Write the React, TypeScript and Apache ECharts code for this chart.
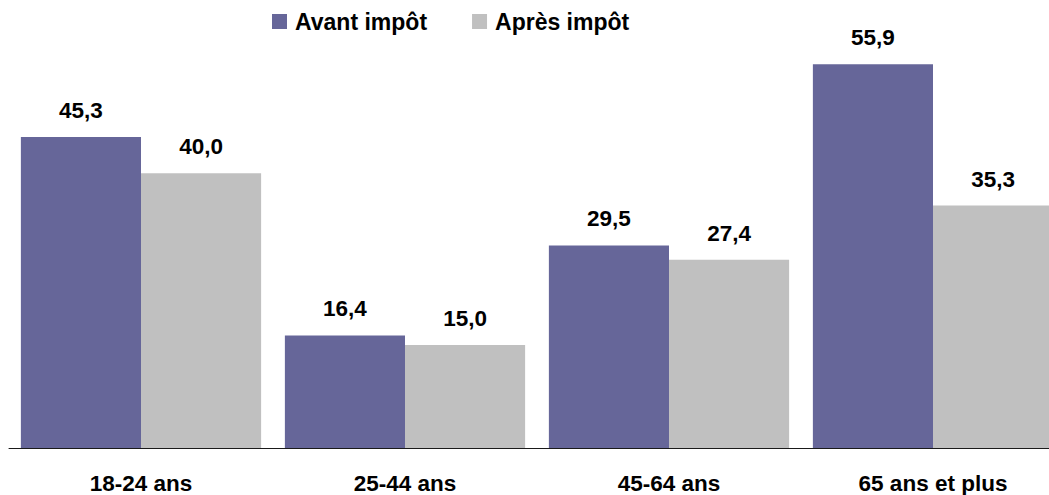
import React, { useEffect, useRef } from "react";
import * as echarts from "echarts";

const categories = ["18-24 ans", "25-44 ans", "45-64 ans", "65 ans et plus"];
const seriesNames = ["Avant impôt", "Après impôt"];
const avantImpot = [45.3, 16.4, 29.5, 55.9];
const apresImpot = [40.0, 15.0, 27.4, 35.3];

const FONT = "'Liberation Sans', Arial, sans-serif";
const fmt = (v: number) => v.toFixed(1).replace(".", ",");

export default function App() {
  const ref = useRef<HTMLDivElement>(null);
  useEffect(() => {
    if (!ref.current) return;
    const chart = echarts.init(ref.current, undefined, { renderer: "svg" });
    const label = {
      show: true,
      position: "top" as const,
      distance: 15,
      fontFamily: FONT,
      fontWeight: "bold" as const,
      fontSize: 22.5,
      color: "#000",
      formatter: (p: any) => fmt(p.value),
    };
    chart.setOption({
      animation: false,
      backgroundColor: "#fff",
      legend: {
        top: 5,
        left: 267,
        itemWidth: 15,
        itemHeight: 15,
        itemGap: 45,
        icon: "rect",
        textStyle: {
          fontFamily: FONT,
          fontWeight: "bold",
          fontSize: 23,
          color: "#000",
          padding: [0, 0, 0, 3],
        },
        data: seriesNames,
      },
      grid: { left: 9, right: 0, top: 36, bottom: 46 },
      xAxis: {
        type: "category",
        data: categories,
        axisTick: { show: false },
        axisLine: { lineStyle: { color: "#1a1a1a", width: 1 } },
        axisLabel: { fontFamily: FONT, fontWeight: "bold", fontSize: 22.5, color: "#000", margin: 24 },
      },
      yAxis: { type: "value", min: 0, max: 60, show: false, splitLine: { show: false } },
      series: [
        {
          name: seriesNames[0],
          type: "bar",
          data: avantImpot,
          itemStyle: { color: "#666699" },
          barGap: "0%",
          barCategoryGap: "9%",
          label,
        },
        {
          name: seriesNames[1],
          type: "bar",
          data: apresImpot,
          itemStyle: { color: "#C0C0C0" },
          barGap: "0%",
          barCategoryGap: "9%",
          label,
        },
      ],
    });
    return () => chart.dispose();
  }, []);
  return (
    <div style={{ position: "fixed", left: 0, top: 0, width: 1049, height: 495, overflow: "hidden", background: "#fff" }}>
      <div ref={ref} style={{ position: "absolute", left: 0, top: 0, width: 1065, height: 495 }} />
    </div>
  );
}
